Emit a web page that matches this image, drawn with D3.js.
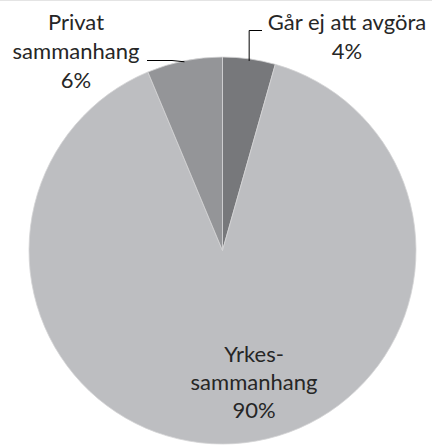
<!DOCTYPE html>
<html><head><meta charset="utf-8">
<script src="https://cdn.jsdelivr.net/npm/d3@7"></script>
<style>html,body{margin:0;padding:0;background:#fff;}svg{display:block;}</style>
</head><body>
<script>
const categories = ["Går ej att avgöra", "Yrkessammanhang", "Privat sammanhang"];
const values = [4.4, 89.3, 6.3];
const valueLabels = ["4%", "90%", "6%"];
const colors = ["#77787b", "#bdbec1", "#949598"];

const W = 432, H = 445;
const cx = 222.5, cy = 250.5, R = 193.5;
const svg = d3.select("body").append("svg").attr("width", W).attr("height", H);
svg.append("line").attr("x1",0).attr("x2",W).attr("y1",0.5).attr("y2",0.5).attr("stroke","#e4e4e4");

const pie = d3.pie().sort(null).value(d => d)(values);
const arc = d3.arc().innerRadius(0).outerRadius(R);
const g = svg.append("g").attr("transform", `translate(${cx},${cy})`);
g.selectAll("path").data(pie).join("path")
  .attr("d", arc).attr("fill", (d,i) => colors[i])
  .attr("stroke", "#d4d4d6").attr("stroke-width", 0.8);

const font = "Lato, 'Open Sans', sans-serif";
const fs = 22;
const txt = svg.append("g").attr("font-family", font).attr("font-size", fs).attr("fill", "#262626").attr("text-anchor","middle");

function block(lines, x, y0, lh) {
  lines.forEach((t, i) => txt.append("text").attr("x", x).attr("y", y0 + i*lh).text(t));
}
block(["Privat", "sammanhang", valueLabels[2]], 76, 30, 29);
block([categories[0], valueLabels[0]], 347, 30, 29);
block(["Yrkes-", "sammanhang", valueLabels[1]], 254, 362, 28);

// leader lines
const leader = d3.line();
const aG = (pie[0].startAngle + pie[0].endAngle)/2;
const pG = [cx + R*Math.sin(aG), cy - R*Math.cos(aG)];
svg.append("path").attr("d", leader([[pG[0], pG[1]+2], [pG[0], 30.5], [262, 30.5]]))
  .attr("fill","none").attr("stroke","#000").attr("stroke-width",1);
const aP = (pie[2].startAngle + pie[2].endAngle)/2;
const pP = [cx + R*Math.sin(aP), cy - R*Math.cos(aP)];
svg.append("path").attr("d", leader([[147, 60.5], [172, 60.5], [pP[0], pP[1]+1]]))
  .attr("fill","none").attr("stroke","#000").attr("stroke-width",1);
</script>
</body></html>
